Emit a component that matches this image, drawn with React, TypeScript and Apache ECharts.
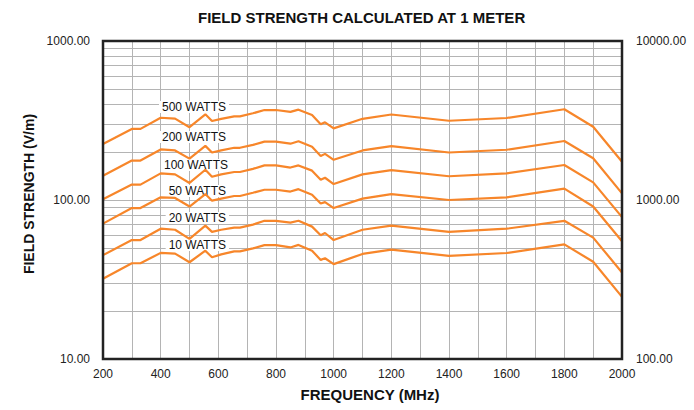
import React, { useEffect, useRef } from "react";
import * as echarts from "echarts";

const freq = [200, 300, 330, 400, 450, 500, 555, 578, 610, 655, 675, 720, 760, 800, 850, 878, 925, 955, 970, 1000, 1100, 1200, 1400, 1600, 1800, 1900, 2000];

const w500 = [225, 280, 280, 329, 325, 287, 346, 314, 324, 336, 336, 351, 368, 368, 358, 370, 342, 299, 308, 282, 324, 345, 315, 328, 372, 289, 174];
const w200 = [142, 177, 177, 208, 205, 182, 219, 199, 205, 213, 213, 222, 233, 233, 226, 234, 216, 189, 195, 179, 205, 218, 199, 207, 235, 183, 110];
const w100 = [101, 125, 125, 147, 145, 128, 155, 140, 145, 150, 150, 157, 165, 165, 160, 165, 153, 134, 138, 126, 145, 154, 141, 147, 166, 129, 78];
const w50 = [71, 89, 89, 104, 103, 91, 109, 99, 102, 106, 106, 111, 116, 116, 113, 117, 108, 95, 97, 89, 102, 109, 100, 104, 118, 91, 55];
const w20 = [45, 56, 56, 66, 65, 57, 69, 63, 65, 67, 67, 70, 74, 74, 72, 74, 68, 60, 62, 56, 65, 69, 63, 66, 74, 58, 35];
const w10 = [32, 40, 40, 46.5, 46, 40.6, 48, 43.6, 45.5, 47.5, 47.5, 49.6, 52, 52, 50.3, 52.2, 48, 42, 43, 39.5, 45.8, 48.8, 44.5, 46.4, 52.6, 40.9, 24.6];

const seriesNames = ["500 WATTS", "200 WATTS", "100 WATTS", "50 WATTS", "20 WATTS", "10 WATTS"];
const seriesValues = [w500, w200, w100, w50, w20, w10];

const minorGridValues = [20, 30, 40, 50, 60, 70, 80, 90, 200, 300, 400, 500, 600, 700, 800, 900];

const FONT = "'Liberation Sans', Arial, Helvetica, sans-serif";
const ORANGE = "#f7862a";
const GRID = "#b4b4b4";

export default function App() {
  const ref = useRef<HTMLDivElement>(null);
  useEffect(() => {
    if (!ref.current) return;
    const chart = echarts.init(ref.current, null, { renderer: "svg" });

    // label anchor positions (right edge x, center y) beside the curves
    const labelPos = [
      [229, 107],
      [229, 137],
      [231, 165],
      [229, 191],
      [229, 218],
      [229, 245],
    ];

    const option: any = {
      animation: false,
      backgroundColor: "#ffffff",
      textStyle: { fontFamily: FONT },
      title: {
        text: "FIELD STRENGTH CALCULATED AT 1 METER",
        left: 198,
        top: 10,
        padding: 0,
        textStyle: { fontFamily: FONT, fontSize: 15, fontWeight: "bold", color: "#111" },
      },
      grid: {
        left: 103,
        right: 72,
        top: 41,
        bottom: 51,
        show: true,
        borderColor: "#222",
        borderWidth: 2.5,
        backgroundColor: "transparent",
        z: 20,
      },
      xAxis: {
        type: "value",
        min: 200,
        max: 2000,
        interval: 200,
        name: "FREQUENCY (MHz)",
        nameLocation: "middle",
        nameGap: 28,
        nameTextStyle: {
          fontFamily: FONT,
          fontSize: 15,
          fontWeight: "bold",
          color: "#111",
          padding: [0, 0, 0, 15],
        },
        axisLine: { show: false },
        axisTick: { show: false },
        axisLabel: {
          fontFamily: FONT,
          fontSize: 12,
          color: "#222",
          margin: 9,
          formatter: (v: number) => String(Math.round(v)),
        },
        splitLine: { show: true, lineStyle: { color: GRID, width: 1 } },
        minorTick: { show: false, splitNumber: 2 },
        minorSplitLine: { show: true, lineStyle: { color: GRID, width: 1 } },
      },
      yAxis: [
        {
          type: "log",
          logBase: 10,
          min: 10,
          max: 1000,
          name: "FIELD STRENGTH (V/m)",
          nameLocation: "middle",
          nameGap: 62,
          nameRotate: 90,
          nameTextStyle: {
            fontFamily: FONT,
            fontSize: 14,
            fontWeight: "bold",
            color: "#111",
            padding: [0, 0, 0, 12],
          },
          axisLine: { show: false },
          axisTick: { show: false },
          axisLabel: {
            fontFamily: FONT,
            fontSize: 12,
            color: "#222",
            margin: 13,
            formatter: (v: number) => Number(v).toFixed(2),
          },
          splitLine: { show: true, lineStyle: { color: GRID, width: 1 } },
        },
        {
          type: "log",
          logBase: 10,
          min: 100,
          max: 10000,
          position: "right",
          axisLine: { show: false },
          axisTick: { show: false },
          axisLabel: {
            fontFamily: FONT,
            fontSize: 12,
            color: "#222",
            margin: 14,
            formatter: (v: number) => Number(v).toFixed(2),
          },
          splitLine: { show: false },
        },
      ],
      series: [
        {
          type: "line",
          name: "grid",
          data: [],
          silent: true,
          z: 1,
          markLine: {
            silent: true,
            z: 1,
            symbol: ["none", "none"],
            label: { show: false },
            lineStyle: { color: GRID, width: 1, type: "solid" },
            emphasis: { disabled: true },
            data: minorGridValues.map((v) => ({ yAxis: v })),
          },
        },
        ...seriesValues.map((vals, i) => ({
          type: "line",
          name: seriesNames[i],
          data: freq.map((f, j) => [f, vals[j]]),
          showSymbol: false,
          symbol: "none",
          z: 10,
          lineStyle: { color: ORANGE, width: 2.2 },
          itemStyle: { color: ORANGE },
        })),
      ],
      graphic: seriesNames.map((name, i) => ({
        type: "text",
        z: 5,
        x: labelPos[i][0],
        y: labelPos[i][1],
        style: {
          text: name,
          fontFamily: FONT,
          fontSize: 12,
          lineHeight: 12,
          fill: "#111",
          align: "right",
          verticalAlign: "middle",
          backgroundColor: "#ffffff",
          padding: [0, 3, 0, 3],
        },
      })),
    };

    chart.setOption(option);
    return () => chart.dispose();
  }, []);

  return (
    <div
      ref={ref}
      style={{ position: "fixed", left: 0, top: 0, width: 694, height: 410 }}
    />
  );
}
